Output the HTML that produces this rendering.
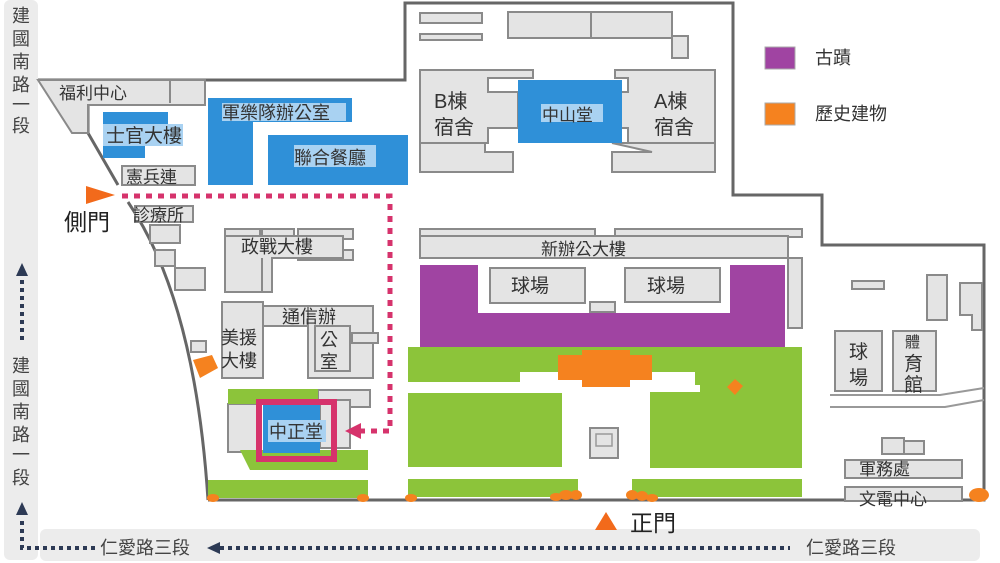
<!DOCTYPE html>
<html><head><meta charset="utf-8"><style>
html,body{margin:0;padding:0;background:#fff;}
svg{display:block;font-family:"Liberation Sans","Noto Sans CJK TC",sans-serif;}
</style></head><body>
<svg width="1000" height="563" viewBox="0 0 1000 563" xmlns="http://www.w3.org/2000/svg">
<!-- roads -->
<rect x="4" y="0" width="34" height="560" rx="6" fill="#ececec"/>
<rect x="40" y="529" width="940" height="32" rx="6" fill="#ececec"/>
<g font-size="18" fill="#444" text-anchor="middle">
<text x="21" y="22">建</text><text x="21" y="45">國</text><text x="21" y="68">南</text><text x="21" y="91">路</text><text x="21" y="111">一</text><text x="21" y="132">段</text>
<text x="21" y="372">建</text><text x="21" y="395">國</text><text x="21" y="418">南</text><text x="21" y="441">路</text><text x="21" y="461">一</text><text x="21" y="484">段</text>
</g>
<g font-size="18" fill="#444"><text x="100" y="554">仁愛路三段</text><text x="806" y="554">仁愛路三段</text></g>
<g stroke="#2d3a55" stroke-width="4" stroke-dasharray="4 4" fill="none">
<line x1="22" y1="340" x2="22" y2="278"/>
<polyline points="95,548 22,548 22,518"/>
<line x1="220" y1="548" x2="790" y2="548"/>
</g>
<g fill="#2d3a55">
<polygon points="22,263 16,276 28,276"/>
<polygon points="22,502 16,515 28,515"/>
<polygon points="207,548 220,542 220,554"/>
</g>
<!-- boundary -->
<g stroke="#666" stroke-width="3" fill="none">
<polyline points="38,80 405,80 405,3 733,3 733,195 822,195 822,245 984,245 984,500 208,500"/>
<path d="M128,202 Q195,300 208,500"/>
<polyline points="88,105 88,133 118,185"/>
</g>
<!-- buildings gray -->
<g fill="#e4e4e4" stroke="#8a8a8a" stroke-width="2">
<polygon points="38,80 205,80 205,105 88,105 88,133 72,133"/>
<line x1="170" y1="81" x2="170" y2="103"/>
<rect x="122" y="166" width="73" height="19"/>
<rect x="135" y="206" width="58" height="16"/>
<rect x="150" y="225" width="30" height="18"/>
<rect x="155" y="250" width="20" height="16"/>
<rect x="175" y="268" width="30" height="22"/>
<rect x="225" y="229" width="35" height="10"/><rect x="262" y="229" width="32" height="10"/><rect x="298" y="229" width="55" height="10"/>
<rect x="298" y="250" width="55" height="10"/>
<path d="M225,236 H343 V258 H272 V292 H225 Z"/>
<line x1="262" y1="258" x2="262" y2="292"/>
<rect x="222" y="302" width="41" height="76"/>
<rect x="263" y="306" width="90" height="20"/>
<rect x="308" y="306" width="65" height="72"/>
<rect x="315" y="326" width="35" height="45"/>
<rect x="352" y="333" width="26" height="10"/>
<rect x="191" y="341" width="15" height="11"/>
<rect x="318" y="390" width="52" height="17"/>
<rect x="320" y="400" width="30" height="48"/>
<rect x="228" y="404" width="32" height="48"/>
<!-- top middle -->
<rect x="420" y="13" width="62" height="10"/><rect x="420" y="34" width="62" height="6"/>
<rect x="508" y="12" width="83" height="26"/><rect x="591" y="12" width="81" height="26"/>
<rect x="672" y="36" width="16" height="22"/>
<path d="M420,70 H533 V78 H488 V92 H518 V128 H488 V143 H420 Z"/>
<path d="M420,143 H485 V152 H513 V172 H420 Z"/>
<path d="M615,70 H715 V143 H628 V128 H620 V92 H628 V78 H615 Z"/>
<path d="M612,143 H715 V172 H612 V152 H652 Z"/>
<!-- new office -->
<rect x="420" y="229" width="175" height="8"/><rect x="615" y="229" width="187" height="8"/>
<rect x="420" y="236" width="368" height="22"/>
<rect x="788" y="258" width="14" height="70"/>
<rect x="490" y="268" width="95" height="35"/><rect x="625" y="268" width="95" height="34"/>
<rect x="590" y="302" width="25" height="10"/>
<rect x="590" y="428" width="28" height="30"/>
<!-- right area -->
<rect x="852" y="281" width="32" height="8"/>
<rect x="927" y="275" width="20" height="45"/>
<path d="M960,283 H982 V330 H972 V315 H960 Z"/>
<rect x="835" y="331" width="47" height="60"/><rect x="893" y="331" width="43" height="60"/>
<rect x="882" y="438" width="22" height="16"/><rect x="904" y="441" width="20" height="13"/>
<rect x="845" y="460" width="117" height="18"/>
<rect x="845" y="487" width="117" height="14"/>
</g>
<g stroke="#999" stroke-width="2" fill="none">
<polyline points="830,395 940,395 984,388"/><polyline points="830,407 945,407 984,400"/>
</g>
<rect x="596" y="434" width="16" height="12" fill="none" stroke="#999" stroke-width="1.5"/>
<!-- blue -->
<g fill="#2f90d8">
<rect x="103" y="112" width="65" height="14"/><rect x="103" y="124" width="80" height="22" fill="#a9d2f2"/><rect x="103" y="146" width="42" height="12"/>
<path d="M208,98 H352 V122 H253 V185 H208 Z"/>
<rect x="268" y="135" width="140" height="50"/>
<rect x="518" y="80" width="104" height="63"/>
</g>
<rect x="222" y="103" width="124" height="18" fill="#a9d2f2"/>
<rect x="294" y="145" width="82" height="22" fill="#a9d2f2"/>
<rect x="541" y="104" width="62" height="18" fill="#a9d2f2"/>
<!-- purple -->
<path d="M420,265 H478 V313 H730 V265 H785 V347 H420 Z" fill="#a044a2"/>
<!-- green -->
<g fill="#8cc43a">
<path d="M408,347 H802 V372 H408 Z"/>
<path d="M408,372 H520 V382 H408 Z"/>
<path d="M695,372 H802 V385 H695 Z"/>
<rect x="408" y="393" width="154" height="74"/>
<path d="M650,392 H700 V385 H802 V468 H650 Z"/>
<rect x="408" y="479" width="170" height="18"/>
<rect x="632" y="479" width="170" height="18"/>
<rect x="208" y="480" width="160" height="18"/>
<rect x="228" y="389" width="90" height="15"/>
<path d="M240,450 H368 V470 H250 Z"/>
</g>
<!-- orange -->
<g fill="#f5821f">
<path d="M558,355 H582 V350 H630 V355 H652 V380 H630 V387 H582 V380 H558 Z"/>
<polygon points="735,379 743,386 735,395 727,387"/>
<polygon points="193,360 212,355 218,368 200,378"/>
<ellipse cx="213" cy="498" rx="6" ry="4"/><ellipse cx="363" cy="498" rx="6" ry="4"/>
<ellipse cx="411" cy="498" rx="6" ry="4"/><ellipse cx="556" cy="497" rx="6" ry="4"/><ellipse cx="566" cy="495" rx="7" ry="5"/><ellipse cx="576" cy="495" rx="6" ry="5"/>
<ellipse cx="632" cy="495" rx="6" ry="5"/><ellipse cx="642" cy="496" rx="6" ry="5"/><ellipse cx="652" cy="498" rx="6" ry="4"/>
<ellipse cx="979" cy="495" rx="10" ry="7"/>
</g>
<rect x="765" y="47" width="30" height="22" fill="#a044a2" stroke="#aaa"/>
<rect x="765" y="103" width="30" height="22" fill="#f5821f" stroke="#aaa"/>
<!-- 中正堂 -->
<rect x="263" y="405" width="57" height="48" fill="#2f90d8"/>
<rect x="268" y="420" width="58" height="22" fill="#a9d2f2"/>
<rect x="259" y="402" width="75" height="57" fill="none" stroke="#d6336c" stroke-width="6"/>
<!-- dotted path -->
<polyline points="122,196 390,196 390,431 360,431" fill="none" stroke="#d6336c" stroke-width="5" stroke-dasharray="6 6"/>
<polygon points="345,431 361,423 361,439" fill="#d6336c"/>
<!-- gates -->
<polygon points="86,186 115,195 86,204" fill="#f26a1b"/>
<polygon points="606,512 617,530 595,530" fill="#f26a1b"/>
<g fill="#222"><text x="64" y="230" font-size="23">側門</text><text x="630" y="531" font-size="23">正門</text></g>
<!-- labels -->
<g fill="#333" font-size="17">
<text x="59" y="99">福利中心</text>
<text x="106" y="142" font-size="19">士官大樓</text>
<text x="126" y="183">憲兵連</text>
<text x="133" y="221">診療所</text>
<text x="222" y="119" font-size="18">軍樂隊辦公室</text>
<text x="294" y="164" font-size="18">聯合餐廳</text>
<text x="241" y="253" font-size="18">政戰大樓</text>
<text x="282" y="323" font-size="18">通信辦</text>
<text x="320" y="346" font-size="18">公</text><text x="320" y="368" font-size="18">室</text>
<text x="221" y="344" font-size="18">美援</text><text x="221" y="367" font-size="18">大樓</text>
<text x="269" y="438" font-size="18">中正堂</text>
<text x="542" y="121">中山堂</text>
<text x="434" y="108" font-size="20">B棟</text><text x="434" y="134" font-size="20">宿舍</text>
<text x="654" y="108" font-size="20">A棟</text><text x="654" y="134" font-size="20">宿舍</text>
<text x="541" y="255">新辦公大樓</text>
<text x="511" y="292" font-size="19">球場</text><text x="647" y="292" font-size="19">球場</text>
<text x="849" y="358" font-size="19">球</text><text x="849" y="384" font-size="19">場</text>
<text x="905" y="347" font-size="15">體</text><text x="904" y="370" font-size="19">育</text><text x="904" y="391" font-size="19">館</text>
<text x="859" y="475">軍務處</text>
<text x="859" y="505">文電中心</text>
<text x="815" y="64" font-size="18">古蹟</text>
<text x="815" y="120" font-size="18">歷史建物</text>
</g>
</svg>
</body></html>
